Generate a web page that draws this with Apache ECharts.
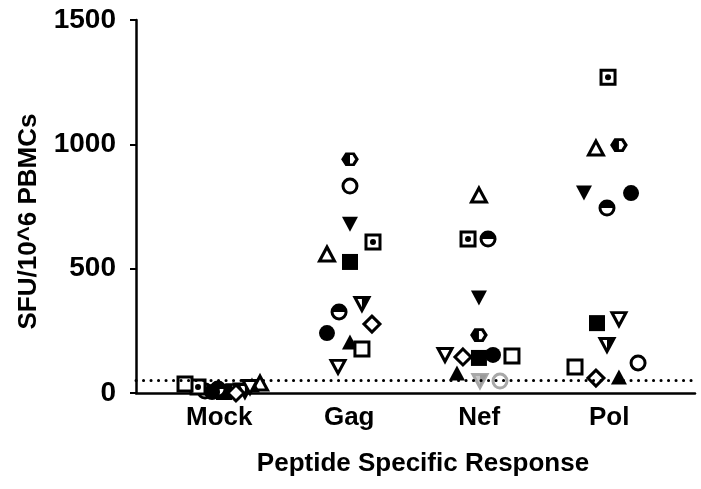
<!DOCTYPE html>
<html>
<head>
<meta charset="utf-8">
<script src="https://cdn.jsdelivr.net/npm/echarts@6/dist/echarts.min.js"></script>
<style>
html,body{margin:0;padding:0;background:#fff;}
#chart{width:701px;height:489px;}
</style>
</head>
<body>
<div id="chart"></div>
<script>
// ---------------- DATA ----------------
const categories = ['Mock', 'Gag', 'Nef', 'Pol'];
const categoryPositions = [1, 2, 3, 4];
const yTicks = [0, 500, 1000, 1500];
const thresholdValue = 50;
const xAxisTitle = 'Peptide Specific Response';
const yAxisTitle = 'SFU/10^6 PBMCs';

// one marker per subject, same order in every group
const markers = ['halfHex', 'openCircle', 'filledDownTri', 'dotSquare', 'openTri', 'filledSquare',
  'halfDownTri', 'halfCircle', 'openDiamond', 'filledCircle', 'filledTri', 'openSquare', 'openDownTri'];

// jittered x (in category units) and SFU values
const mockX = [1.083, 0.891, 1.160, 0.837, 1.314, 1.037, 1.198, 0.991, 1.129, 0.945, 1.252, 0.737, 1.237];
const mockY = [12, 8, 12, 24, 40, 4, 8, 16, 0, 4, 32, 36, 24];
const gagX = [2.006, 2.006, 2.006, 2.183, 1.829, 2.006, 2.098, 1.922, 2.175, 1.829, 2.006, 2.098, 1.914];
const gagY = [940, 832, 679, 607, 559, 527, 358, 326, 277, 241, 205, 177, 105];
const nefX = [2.998, 3.160, 2.998, 2.914, 2.998, 2.998, 3.006, 3.068, 2.875, 3.106, 2.829, 3.252, 2.737];
const nefY = [233, 48, 382, 619, 796, 141, 48, 619, 145, 153, 80, 149, 153];
const polX = [4.075, 4.222, 3.806, 3.991, 3.898, 3.906, 3.983, 3.983, 3.898, 4.168, 4.075, 3.737, 4.075];
const polY = [997, 121, 804, 1270, 985, 281, 193, 744, 60, 804, 64, 105, 297];
// points drawn in grey (below cut-off)
const nefGreyMarkers = ['openCircle', 'halfDownTri'];

// ---------------- STYLES ----------------
const hexPath = 'path://M-1,0 L-0.5,-0.866 L0.5,-0.866 L1,0 L0.5,0.866 L-0.5,0.866 Z';
const hexLeftPath = 'path://M-1,0 L-0.5,-0.866 L0,-0.866 L0,0.866 L-0.5,0.866 Z';
const downTriPath = 'path://M0,0 L2,0 L1,2 Z';
const downTriRightPath = 'path://M0,0 L1,0 L0,2 Z';
const topHalfCirclePath = 'path://M-1,0 A1,1 0 0 1 1,0 Z';

const LW = 3;
function base(symbol, size) { return { symbol, size, offset: [0, 0], kind: 'base' }; }
function solid(symbol, size, offset) { return { symbol, size, offset: offset || [0, 0], kind: 'solid' }; }

const markerLayers = {
  halfHex: [base(hexPath, [14, 11]), solid(hexLeftPath, [7, 11], [-3.5, 0])],
  openCircle: [base('circle', 14)],
  filledDownTri: [solid(downTriPath, [16, 15])],
  dotSquare: [base('rect', 14), solid('circle', 6)],
  openTri: [base('triangle', [15, 14])],
  filledSquare: [solid('rect', 16)],
  halfDownTri: [base(downTriPath, [14, 13]), solid(downTriRightPath, [7, 13], [3.5, 0])],
  halfCircle: [base('circle', 14), solid(topHalfCirclePath, [14, 7], [0, -3.5])],
  openDiamond: [base('diamond', [16, 16])],
  filledCircle: [solid('circle', 16)],
  filledTri: [solid('triangle', [16, 15])],
  openSquare: [base('rect', 14)],
  openDownTri: [base(downTriPath, [14, 13])]
};

const groups = [
  { name: 'Mock', xs: mockX, ys: mockY, grey: [] },
  { name: 'Gag', xs: gagX, ys: gagY, grey: [] },
  { name: 'Nef', xs: nefX, ys: nefY, grey: nefGreyMarkers },
  { name: 'Pol', xs: polX, ys: polY, grey: [] }
];

function layerStyle(layer, grey, markerName) {
  if (layer.kind === 'base') {
    return {
      color: grey ? (markerName === 'halfDownTri' ? '#c9c9c9' : '#fff') : '#fff',
      borderColor: grey ? '#a8a8a8' : '#000',
      borderWidth: LW,
      opacity: 1
    };
  }
  return { color: grey ? '#9a9a9a' : '#000', borderWidth: 0, opacity: 1 };
}

const series = [];
markers.forEach((m, mi) => {
  markerLayers[m].forEach((layer, li) => {
    const data = groups.map(g => {
      const grey = g.grey.indexOf(m) >= 0;
      return { value: [g.xs[mi], g.ys[mi]], itemStyle: layerStyle(layer, grey, m) };
    });
    series.push({
      type: 'scatter',
      name: m + '_' + li,
      symbol: layer.symbol,
      symbolSize: layer.size,
      symbolOffset: layer.offset,
      itemStyle: { opacity: 1 },
      data: data,
      silent: true,
      z: 3 + mi * 0.01 + li * 0.001
    });
  });
});

series.push({
  type: 'scatter',
  data: [],
  silent: true,
  z: 2,
  markLine: {
    silent: true,
    symbol: 'none',
    label: { show: false },
    lineStyle: { color: '#000', width: 3, type: [0.1, 7.4], cap: 'round', opacity: 1 },
    data: [{ yAxis: thresholdValue }]
  }
});

const FONT = '"Liberation Sans", Arial, Helvetica, sans-serif';

const option = {
  animation: false,
  backgroundColor: '#fff',
  grid: { left: 136, right: 6, top: 20, bottom: 96, containLabel: false },
  xAxis: {
    type: 'value',
    min: 0.36,
    max: 4.66,
    name: xAxisTitle,
    nameLocation: 'middle',
    nameGap: 58,
    nameTextStyle: { fontFamily: FONT, fontWeight: 'bold', fontSize: 26, color: '#000', padding: [0, 0, 0, 15] },
    axisLine: { show: true, onZero: false, lineStyle: { color: '#000', width: 2.5 } },
    axisTick: { show: false },
    splitLine: { show: false },
    axisLabel: {
      customValues: categoryPositions,
      formatter: v => categories[categoryPositions.indexOf(Math.round(v))] || '',
      fontFamily: FONT, fontWeight: 'bold', fontSize: 26, color: '#000', margin: 12
    }
  },
  yAxis: {
    type: 'value',
    min: yTicks[0],
    max: yTicks[yTicks.length - 1],
    interval: yTicks[1] - yTicks[0],
    name: yAxisTitle,
    nameLocation: 'middle',
    nameGap: 94,
    nameRotate: 90,
    nameTextStyle: { fontFamily: FONT, fontWeight: 'bold', fontSize: 26, color: '#000', padding: [0, 30, 0, 0] },
    axisLine: { show: true, lineStyle: { color: '#000', width: 2.5 } },
    axisTick: { show: true, length: 6, lineStyle: { color: '#000', width: 2 } },
    splitLine: { show: false },
    axisLabel: {
      formatter: v => String(v),
      fontFamily: FONT, fontWeight: 'bold', fontSize: 28, color: '#000', margin: 20
    }
  },
  series: series
};

const chart = echarts.init(document.getElementById('chart'), null, { renderer: 'canvas' });
chart.setOption(option);
</script>
</body>
</html>
